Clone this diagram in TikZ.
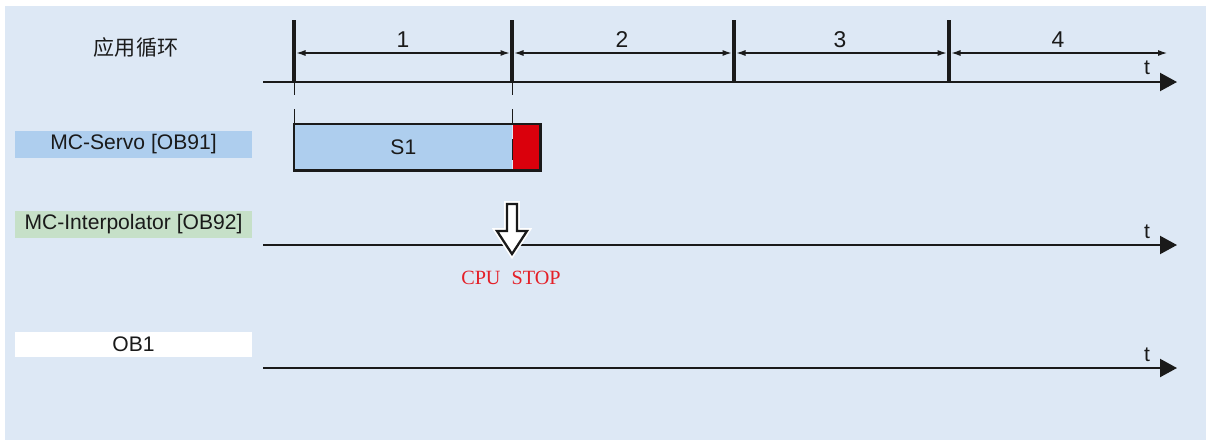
\documentclass[tikz,border=0pt]{standalone}
\usepackage{fontspec}
\setmainfont{Liberation Sans}
\newfontfamily\cjk{Noto Sans CJK SC}
\newfontfamily\serifcpu{Liberation Serif}
\usetikzlibrary{arrows.meta}
\definecolor{bgblue}{RGB}{221,232,245}
\definecolor{servoblue}{RGB}{174,206,238}
\definecolor{interpgreen}{RGB}{198,224,200}
\definecolor{stopred}{RGB}{218,0,12}
\definecolor{cpured}{RGB}{228,32,40}
\definecolor{ink}{RGB}{26,26,26}
\begin{document}
\begin{tikzpicture}[x=0.02cm,y=-0.02cm,
  txt/.style={font=\fontsize{12}{14}\selectfont, text=ink, inner sep=0pt},
  numtxt/.style={font=\fontsize{13}{15}\selectfont, text=ink, inner sep=0pt},
  lbl/.style={txt, minimum width=4.74cm, minimum height=0.54cm},
  axis/.style={draw=ink, line width=1.2pt, -{Triangle[length=0.34cm,width=0.36cm]}},
  cyclebar/.style={draw=ink, line width=2.3pt},
  dim/.style={draw=ink, line width=0.6pt, {Latex[length=0.18cm,width=0.12cm]}-{Latex[length=0.18cm,width=0.12cm]}},
  thintick/.style={draw=ink, line width=0.4pt}]
\useasboundingbox (0,0) rectangle (1206,440);
\fill[bgblue] (5,6) rectangle (1206,440);

% left labels
\node[txt, font=\cjk\fontsize{12}{14}\selectfont] (cyc) at (136,47) {应用循环};
\node[lbl, fill=servoblue] (servo) at (133.5,144) {MC-Servo [OB91]};
\node[lbl, fill=interpgreen] (interp) at (133.5,224.5) {MC-Interpolator [OB92]};
\node[lbl, fill=white, minimum height=0.5cm] (ob1) at (133.5,344.5) {OB1};

% axes
\coordinate (a1s) at (263,82);  \coordinate (a1e) at (1177,82);
\coordinate (a2s) at (263,245); \coordinate (a2e) at (1177,245);
\coordinate (a3s) at (263,368); \coordinate (a3e) at (1177,368);
\draw[axis] (a1s) -- (a1e);
\draw[axis] (a2s) -- (a2e);
\draw[axis] (a3s) -- (a3e);
\node[txt] (t1) at (1147,68) {t};
\node[txt] (t2) at (1147,232) {t};
\node[txt] (t3) at (1147,355) {t};

% cycle bars
\coordinate (b1t) at (294,20); \coordinate (b1b) at (294,83);
\coordinate (b2t) at (512,20); \coordinate (b2b) at (512,83);
\coordinate (b3t) at (734,20); \coordinate (b3b) at (734,83);
\coordinate (b4t) at (949,20); \coordinate (b4b) at (949,83);
\draw[cyclebar] (b1t) -- (b1b);
\draw[cyclebar] (b2t) -- (b2b);
\draw[cyclebar] (b3t) -- (b3b);
\draw[cyclebar] (b4t) -- (b4b);

% dimension arrows
\coordinate (d1a) at (296.5,53); \coordinate (d1b) at (509.5,53);
\coordinate (d2a) at (514.5,53); \coordinate (d2b) at (731.5,53);
\coordinate (d3a) at (736.5,53); \coordinate (d3b) at (946.5,53);
\coordinate (d4a) at (951.5,53); \coordinate (d4b) at (1167,53);
\draw[dim] (d1a) -- (d1b);
\draw[dim] (d2a) -- (d2b);
\draw[dim] (d3a) -- (d3b);
\draw[dim] (d4a) -- (d4b);
\node[numtxt] (n1) at (403,40) {1};
\node[numtxt] (n2) at (622,40) {2};
\node[numtxt] (n3) at (840,40) {3};
\node[numtxt] (n4) at (1058,40) {4};

% thin ticks
\coordinate (k1a) at (294,83); \coordinate (k1b) at (294,95);
\coordinate (k1c) at (294,109); \coordinate (k1d) at (294,124);
\coordinate (k2a) at (512,83); \coordinate (k2b) at (512,95);
\coordinate (k2c) at (512,109); \coordinate (k2d) at (512,124);
\draw[thintick] (k1a) -- (k1b);
\draw[thintick] (k1c) -- (k1d);
\draw[thintick] (k2a) -- (k2b);
\draw[thintick] (k2c) -- (k2d);

% S1 box
\node[fill=servoblue, minimum width=4.36cm, minimum height=0.92cm, inner sep=0pt, anchor=north west] (s1) at (294,124) {};
\node[fill=stopred, minimum width=0.54cm, minimum height=0.92cm, inner sep=0pt, anchor=north west] (err) at (s1.north east) {};
\node[txt] (s1t) at (s1.center) {S1};
\draw[ink, line width=1.4pt] (s1.north west) rectangle (err.south east);
\draw[ink, line width=0.5pt] ([yshift=-0.3cm]s1.north east) -- ([yshift=-0.72cm]s1.north east);

% CPU STOP hollow arrow
\coordinate (hs) at (512,204);
\coordinate (ht) at (512,254);
\path[draw=white, line width=3.2pt, line join=miter, fill=white]
  (507,204) -- (517,204) -- (517,231) -- (527,231) -- (ht) -- (497,231) -- (507,231) -- cycle;
\path[draw=ink, line width=1.3pt, line join=miter, fill=white]
  (507,204) -- (517,204) -- (517,231) -- (527,231) -- (ht) -- (497,231) -- (507,231) -- cycle;
\node[font=\serifcpu\fontsize{11.5}{13}\selectfont, text=cpured, inner sep=0pt] (cpu) at (511,278) {CPU\hspace{0.55em}STOP};
\end{tikzpicture}
\end{document}
